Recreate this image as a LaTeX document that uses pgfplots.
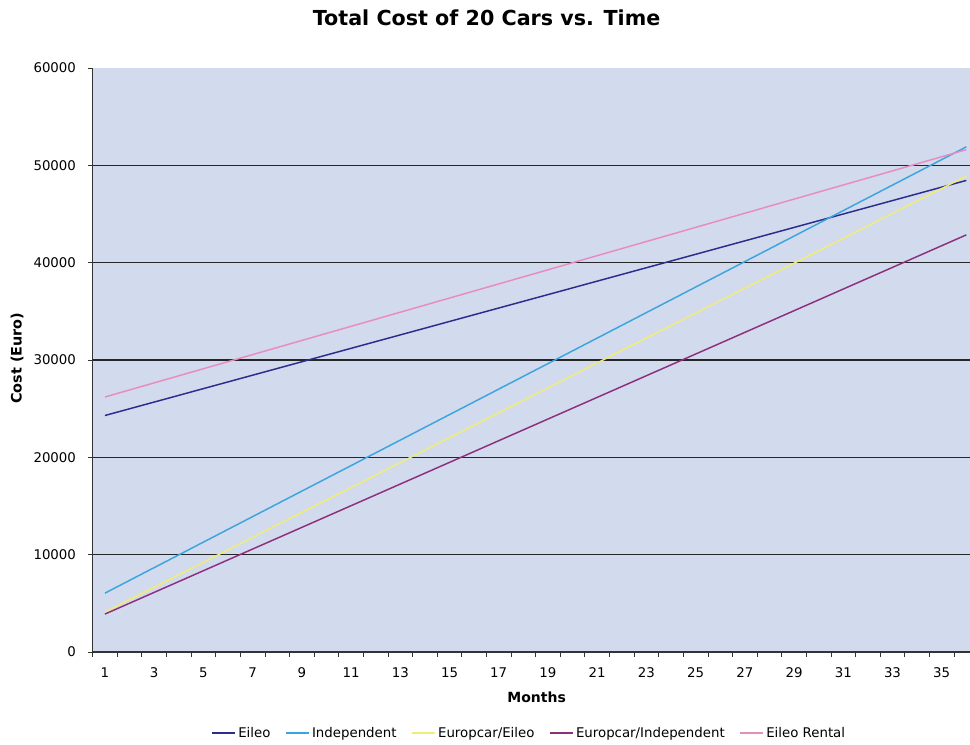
\documentclass[border=0pt]{standalone}
\usepackage{fontspec}
\setmainfont{DejaVu Sans}
\usepackage{pgfplots}
\pgfplotsset{compat=1.18}

\definecolor{plotbg}{RGB}{210,218,238}
\definecolor{eileo}{RGB}{43,45,140}
\definecolor{indep}{RGB}{60,164,222}
\definecolor{eceileo}{RGB}{240,236,120}
\definecolor{ecindep}{RGB}{140,48,125}
\definecolor{rental}{RGB}{232,140,192}

\begin{document}
\begin{tikzpicture}
\path[use as bounding box] (-69.5pt,-69pt) rectangle (658pt,489pt);
\begin{axis}[
  at={(0pt,0pt)}, anchor=south west,
  scale only axis,
  width=658pt, height=438pt,
  xmin=0.5, xmax=36.15,
  ymin=0, ymax=60000,
  axis x line*=bottom, axis y line*=left,
  axis line style={black!80, line width=0.8pt},
  axis background/.style={fill=plotbg},
  xtick={1,3,...,35},
  major x tick style={draw=none},
  minor xtick={0.5,1.5,...,35.5},
  minor x tick style={black!80, line width=0.6pt},
  minor tick length=3.5pt,
  ytick={0,10000,...,60000},
  scaled y ticks=false,
  major y tick style={black!80, line width=0.6pt},
  major tick length=3.5pt,
  tick align=outside,
  extra y ticks={10000,20000,30000,40000,50000},
  extra y tick labels={},
  extra y tick style={grid=major, major tick length=0pt},
  grid style={black!85, line width=1.2pt},
  /pgf/number format/assume math mode=true,
  /pgf/number format/1000 sep={},
  tick label style={font=\fontsize{10}{12}\selectfont},
  yticklabel style={xshift=-5.5pt},
  xticklabel style={yshift=-5pt},
  title={\textbf{Total Cost of 20 Cars vs. Time}},
  title style={font=\fontsize{15.5}{18}\selectfont, at={(0.449,1.073)}, anchor=center},
  xlabel={\textbf{Months}},
  xlabel style={font=\fontsize{10.5}{12}\selectfont, at={(0.506,-0.077)}, anchor=center},
  ylabel={\textbf{Cost (Euro)}},
  ylabel style={font=\fontsize{10.8}{12}\selectfont, at={(-0.086,0.503)}, anchor=center},
  legend style={at={(0.498,-0.139)}, anchor=center, draw=none, fill=none,
    font=\fontsize{10}{12}\selectfont, legend columns=-1,
    /tikz/every even column/.append style={column sep=9pt}},
  every axis plot/.append style={line width=1.1pt, mark=none},
  clip=true,
]
% Eileo
\addplot[eileo] coordinates {
(1,24300) (2,24990) (3,25680) (4,26370) (5,27060) (6,27750) (7,28440) (8,29130) (9,29820)
(10,30510) (11,31200) (12,31890) (13,32580) (14,33270) (15,33960) (16,34650) (17,35340)
(18,36030) (19,36720) (20,37410) (21,38100) (22,38790) (23,39480) (24,40170) (25,40860)
(26,41550) (27,42240) (28,42930) (29,43620) (30,44310) (31,45000) (32,45690) (33,46380)
(34,47070) (35,47760) (36,48450)};
\addlegendentry{Eileo}
% Independent
\addplot[indep] coordinates {
(1,6050) (2,7360) (3,8670) (4,9980) (5,11290) (6,12600) (7,13910) (8,15220) (9,16530)
(10,17840) (11,19150) (12,20460) (13,21770) (14,23080) (15,24390) (16,25700) (17,27010)
(18,28320) (19,29630) (20,30940) (21,32250) (22,33560) (23,34870) (24,36180) (25,37490)
(26,38800) (27,40110) (28,41420) (29,42730) (30,44040) (31,45350) (32,46660) (33,47970)
(34,49280) (35,50590) (36,51900)};
\addlegendentry{Independent}
% Europcar/Eileo
\addplot[eceileo] coordinates {
(1,4100) (2,5380) (3,6660) (4,7940) (5,9220) (6,10500) (7,11780) (8,13060) (9,14340)
(10,15620) (11,16900) (12,18180) (13,19460) (14,20740) (15,22020) (16,23300) (17,24580)
(18,25860) (19,27140) (20,28420) (21,29700) (22,30980) (23,32260) (24,33540) (25,34820)
(26,36100) (27,37380) (28,38660) (29,39940) (30,41220) (31,42500) (32,43780) (33,45060)
(34,46340) (35,47620) (36,48900)};
\addlegendentry{Europcar/Eileo}
% Europcar/Independent
\addplot[ecindep] coordinates {
(1,3900) (2,5013) (3,6126) (4,7239) (5,8352) (6,9465) (7,10578) (8,11691) (9,12804)
(10,13917) (11,15030) (12,16143) (13,17256) (14,18369) (15,19482) (16,20595) (17,21708)
(18,22821) (19,23934) (20,25047) (21,26160) (22,27273) (23,28386) (24,29499) (25,30612)
(26,31725) (27,32838) (28,33951) (29,35064) (30,36177) (31,37290) (32,38403) (33,39516)
(34,40629) (35,41742) (36,42855)};
\addlegendentry{Europcar/Independent}
% Eileo Rental
\addplot[rental] coordinates {
(1,26200) (2,26926) (3,27652) (4,28378) (5,29104) (6,29830) (7,30556) (8,31282) (9,32008)
(10,32734) (11,33460) (12,34186) (13,34912) (14,35638) (15,36364) (16,37090) (17,37816)
(18,38542) (19,39268) (20,39994) (21,40720) (22,41446) (23,42172) (24,42898) (25,43624)
(26,44350) (27,45076) (28,45802) (29,46528) (30,47254) (31,47980) (32,48706) (33,49432)
(34,50158) (35,50884) (36,51610)};
\addlegendentry{Eileo Rental}
\end{axis}
\end{tikzpicture}
\end{document}
